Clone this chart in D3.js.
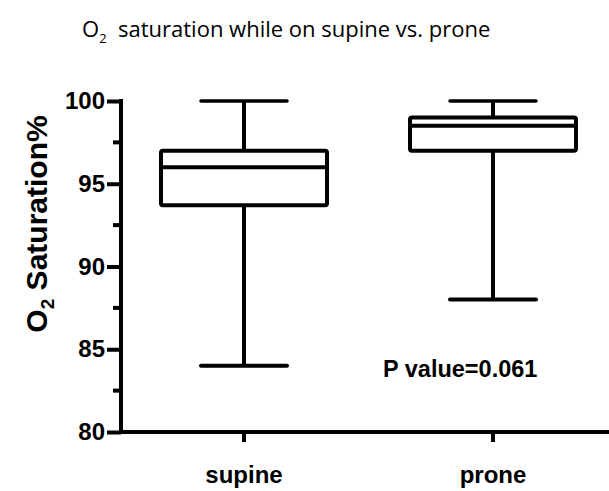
<!DOCTYPE html>
<html>
<head>
<meta charset="utf-8">
<script src="https://cdn.jsdelivr.net/npm/d3@7"></script>
<style>
  body { margin: 0; background: #fff; }
  svg text { fill: #000; }
</style>
</head>
<body>
<svg width="609" height="491"></svg>
<script>
// 데이터
const categories = ['supine', 'prone'];
const mins = [84, 88];
const q1s = [93.7, 97];
const medians = [96, 98.5];
const q3s = [97, 99];
const maxs = [100, 100];
const yTicks = [80, 85, 90, 95, 100];
const yMinorTicks = [82.5, 87.5, 92.5, 97.5];
const pText = 'P value=0.061';

const svg = d3.select('svg');
const axisX = 121;
const axisY = 432;

const y = d3.scaleLinear().domain([80, 100]).range([axisY, 101]);
const x = d3.scalePoint().domain(categories).range([244, 493]);

const boxes = categories.map((c, i) => ({
  name: c, min: mins[i], q1: q1s[i], med: medians[i], q3: q3s[i], max: maxs[i]
}));

// 제목
const title = svg.append('text')
  .attr('x', 82)
  .attr('y', 37)
  .style('font-family', 'Open Sans, sans-serif')
  .style('font-size', '22px');
title.append('tspan').text('O');
title.append('tspan').attr('dy', 6).style('font-size', '13px').text('2');
title.append('tspan').attr('dy', -6).text('\u00a0 saturation while on supine vs. prone');

// y축
const yAxis = svg.append('g')
  .attr('transform', `translate(${axisX},0)`)
  .call(d3.axisLeft(y).tickValues(yTicks).tickSize(14).tickPadding(2).tickFormat(d3.format('d')));
yAxis.select('.domain').remove();
yAxis.selectAll('line').attr('stroke', '#000').attr('stroke-width', 4);
yAxis.selectAll('text')
  .style('font-family', 'Liberation Sans, Arial, sans-serif')
  .style('font-weight', 'bold')
  .style('font-size', '24px');

svg.append('g')
  .selectAll('line')
  .data(yMinorTicks)
  .enter()
  .append('line')
  .attr('x1', axisX - 8)
  .attr('x2', axisX)
  .attr('y1', (d) => y(d))
  .attr('y2', (d) => y(d))
  .attr('stroke', '#000')
  .attr('stroke-width', 4);

svg.append('line')
  .attr('x1', axisX).attr('x2', axisX)
  .attr('y1', y(100) - 2).attr('y2', axisY + 2)
  .attr('stroke', '#000').attr('stroke-width', 4);

// x축
svg.append('line')
  .attr('x1', axisX - 2).attr('x2', 609)
  .attr('y1', axisY).attr('y2', axisY)
  .attr('stroke', '#000').attr('stroke-width', 4);

svg.append('g')
  .selectAll('line')
  .data(categories)
  .enter()
  .append('line')
  .attr('x1', (d) => x(d)).attr('x2', (d) => x(d))
  .attr('y1', axisY).attr('y2', axisY + 10)
  .attr('stroke', '#000').attr('stroke-width', 4);

svg.append('g')
  .selectAll('text')
  .data(categories)
  .enter()
  .append('text')
  .attr('x', (d) => x(d))
  .attr('y', 483)
  .attr('text-anchor', 'middle')
  .style('font-family', 'Liberation Sans, Arial, sans-serif')
  .style('font-weight', 'bold')
  .style('font-size', '24px')
  .text((d) => d);

// y축 제목
const ylab = svg.append('text')
  .attr('transform', 'translate(47,224) rotate(-90)')
  .attr('text-anchor', 'middle')
  .style('font-family', 'Liberation Sans, Arial, sans-serif')
  .style('font-weight', 'bold')
  .style('font-size', '30px');
ylab.append('tspan').text('O');
ylab.append('tspan').attr('dy', 7).style('font-size', '19px').text('2');
ylab.append('tspan').attr('dy', -7).text(' Saturation%');

// 박스플롯
const boxW = 166;
const capW = 86;
const g = svg.append('g')
  .selectAll('g')
  .data(boxes)
  .enter()
  .append('g')
  .attr('stroke', '#000')
  .attr('stroke-width', 4)
  .attr('fill', 'none');

g.append('line')
  .attr('x1', (d) => x(d.name)).attr('x2', (d) => x(d.name))
  .attr('y1', (d) => y(d.max)).attr('y2', (d) => y(d.min));

g.append('line')
  .attr('x1', (d) => x(d.name) - capW / 2).attr('x2', (d) => x(d.name) + capW / 2)
  .attr('y1', (d) => y(d.max)).attr('y2', (d) => y(d.max))
  .attr('stroke-width', 3.5)
  .attr('stroke-linecap', 'round');

g.append('line')
  .attr('x1', (d) => x(d.name) - capW / 2).attr('x2', (d) => x(d.name) + capW / 2)
  .attr('y1', (d) => y(d.min)).attr('y2', (d) => y(d.min))
  .attr('stroke-linecap', 'round');

g.append('rect')
  .attr('x', (d) => x(d.name) - boxW / 2)
  .attr('width', boxW)
  .attr('y', (d) => y(d.q3))
  .attr('height', (d) => y(d.q1) - y(d.q3))
  .attr('rx', 2)
  .attr('fill', '#fff');

g.append('line')
  .attr('x1', (d) => x(d.name) - boxW / 2).attr('x2', (d) => x(d.name) + boxW / 2)
  .attr('y1', (d) => y(d.med)).attr('y2', (d) => y(d.med));

// P값
svg.append('text')
  .attr('x', 383)
  .attr('y', 377)
  .style('font-family', 'Liberation Sans, Arial, sans-serif')
  .style('font-weight', 'bold')
  .style('font-size', '23.5px')
  .text(pText);
</script>
</body>
</html>
